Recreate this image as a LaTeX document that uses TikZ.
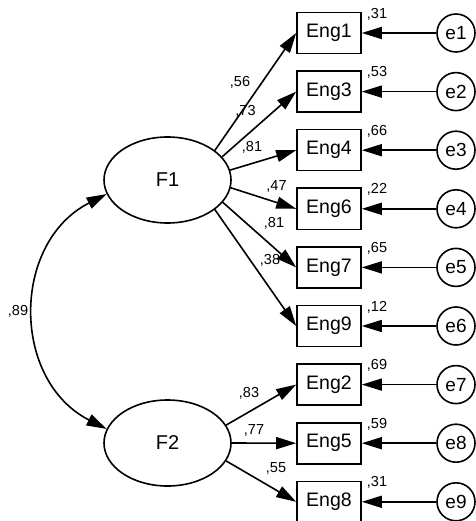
\documentclass[tikz,border=0pt]{standalone}
\usepackage{fontspec}
\setmainfont{Liberation Sans}
\usetikzlibrary{shapes.geometric,arrows.meta}
\begin{document}
\begin{tikzpicture}[x=1pt,y=1pt,
 every node/.style={font=\fontsize{19.5}{21}\selectfont},
 latent/.style={draw, ellipse, line width=1.6pt, minimum width=127pt, minimum height=86pt, inner sep=0pt, font=\fontsize{20}{22}\selectfont},
 obs/.style={draw, rectangle, line width=1.6pt, minimum width=64pt, minimum height=41pt, inner sep=0pt},
 err/.style={draw, circle, line width=1.6pt, minimum size=38pt, inner sep=0pt, font=\fontsize{19}{21}\selectfont},
 coef/.style={font=\fontsize{14.5}{16}\selectfont, inner sep=0pt},
 arr/.style={line width=1.6pt, -{Triangle[length=20pt,width=12pt]}},
 biarr/.style={line width=1.6pt, {Triangle[length=20pt,width=12pt]}-{Triangle[length=20pt,width=12pt]}},
]
\useasboundingbox (0,0) rectangle (475,-521);
% latent factors
\node[latent] (F1) at (167.5,-180) {F1};
\node[latent] (F2) at (167.5,-443) {F2};
% observed
\node[obs] (Eng1) at (329,-33) {Eng1};
\node[obs] (Eng3) at (329,-91.6) {Eng3};
\node[obs] (Eng4) at (329,-150.2) {Eng4};
\node[obs] (Eng6) at (329,-208.8) {Eng6};
\node[obs] (Eng7) at (329,-267.4) {Eng7};
\node[obs] (Eng9) at (329,-326) {Eng9};
\node[obs] (Eng2) at (329,-384.6) {Eng2};
\node[obs] (Eng5) at (329,-443.2) {Eng5};
\node[obs] (Eng8) at (329,-501.8) {Eng8};
% errors
\node[err] (e1) at (456,-33) {e1};
\node[err] (e2) at (456,-91.6) {e2};
\node[err] (e3) at (456,-150.2) {e3};
\node[err] (e4) at (456,-208.8) {e4};
\node[err] (e5) at (456,-267.4) {e5};
\node[err] (e6) at (456,-326) {e6};
\node[err] (e7) at (456,-384.6) {e7};
\node[err] (e8) at (456,-443.2) {e8};
\node[err] (e9) at (456,-501.8) {e9};
% squared multiple correlations
\node[coef] (r1) at (377,-14) {,31};
\node[coef] (r3) at (377,-72.6) {,53};
\node[coef] (r4) at (377,-131.2) {,66};
\node[coef] (r6) at (377,-189.8) {,22};
\node[coef] (r7) at (377,-248.4) {,65};
\node[coef] (r9) at (377,-307) {,12};
\node[coef] (r2) at (377,-365.6) {,69};
\node[coef] (r5) at (377,-424.2) {,59};
\node[coef] (r8) at (377,-482.8) {,31};
% loadings
\node[coef] (l1) at (240,-82) {,56};
\node[coef] (l3) at (245.5,-111) {,73};
\node[coef] (l4) at (252,-147.5) {,81};
\node[coef] (l6) at (276.5,-186.5) {,47};
\node[coef] (l7) at (274,-223.5) {,81};
\node[coef] (l9) at (270,-260) {,38};
\node[coef] (l2) at (249,-393) {,83};
\node[coef] (l5) at (254,-430) {,77};
\node[coef] (l8) at (276,-468) {,55};
\node[coef] (cv) at (18,-311) {,89};
% paths
\draw[arr] (F1.32) -- (Eng1.west);
\draw[arr] (F1.23) -- (Eng3.west);
\draw[arr] (F1.9) -- (Eng4.west);
\draw[arr] (F1.-7) -- (Eng6.west);
\draw[arr] (F1.-22) -- (Eng7.west);
\draw[arr] (F1.-32) -- (Eng9.west);
\draw[arr] (F2.17) -- (Eng2.west);
\draw[arr] (F2.0) -- (Eng5.west);
\draw[arr] (F2.-17) -- (Eng8.west);
\foreach \e/\v in {e1/Eng1,e2/Eng3,e3/Eng4,e4/Eng6,e5/Eng7,e6/Eng9,e7/Eng2,e8/Eng5,e9/Eng8}
  \draw[arr] (\e) -- (\v);
\draw[biarr] (F1.193) to[out=207,in=153,looseness=1.17] (F2.167);
\end{tikzpicture}
\end{document}
